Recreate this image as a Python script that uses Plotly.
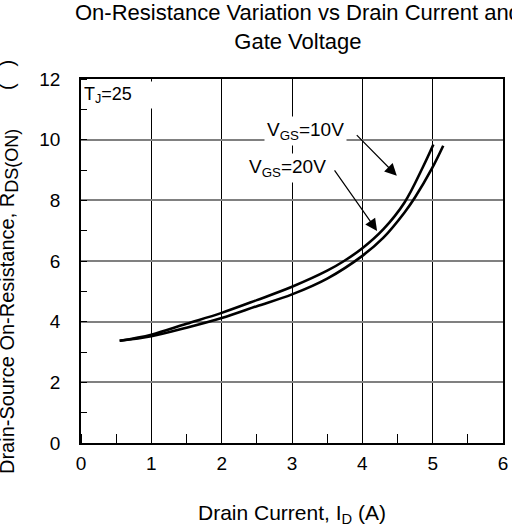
import plotly.graph_objects as go

# Data
id_10v = [0.55, 1.0, 1.5, 2.0, 2.5, 3.0, 3.5, 3.74, 4.0, 4.3, 4.6, 4.86, 5.01]
r_10v = [3.37, 3.57, 3.93, 4.29, 4.71, 5.15, 5.68, 6.0, 6.42, 7.05, 7.93, 9.09, 9.84]
id_20v = [0.55, 1.0, 1.5, 2.0, 2.5, 3.0, 3.5, 4.0, 4.3, 4.6, 4.75, 4.99, 5.15]
r_20v = [3.37, 3.52, 3.80, 4.12, 4.51, 4.90, 5.42, 6.17, 6.77, 7.60, 8.10, 9.05, 9.80]

x_ticks = [0, 1, 2, 3, 4, 5, 6]
y_ticks = [0, 2, 4, 6, 8, 10, 12]

FONT = "Liberation Sans, Arial, sans-serif"
NB = "\u00a0"

fig = go.Figure()
fig.add_trace(go.Scatter(x=id_10v, y=r_10v, mode="lines", name="VGS=10V",
                         line=dict(color="black", width=2.6, shape="spline", smoothing=1.0)))
fig.add_trace(go.Scatter(x=id_20v, y=r_20v, mode="lines", name="VGS=20V",
                         line=dict(color="black", width=2.6, shape="spline", smoothing=1.0)))

fig.update_layout(
    width=512, height=529,
    margin=dict(l=81, r=4, t=79, b=86),
    paper_bgcolor="white", plot_bgcolor="white",
    showlegend=False,
    font=dict(family=FONT, color="black"),
    title=dict(text="On-Resistance Variation vs Drain Current and<br>Gate Voltage",
               font=dict(size=22, family=FONT, color="black"),
               x=0.514, xref="paper", xanchor="center",
               y=0.962, yref="container", yanchor="top"),
)

fig.update_xaxes(
    range=[0, 6], tickvals=x_ticks, ticktext=[str(v) for v in x_ticks],
    showgrid=True, gridcolor="black", gridwidth=1,
    ticks="", tickfont=dict(size=19, family=FONT, color="black"),
    ticklabelstandoff=2,
    minor=dict(dtick=0.5, ticks="inside", ticklen=9, tickcolor="black", tickwidth=1, showgrid=False),
    showline=True, linecolor="black", linewidth=1.5, mirror=True,
    zeroline=False,
)
fig.update_yaxes(
    range=[0, 12], tickvals=y_ticks, ticktext=[str(v) for v in y_ticks],
    showgrid=True, gridcolor="#808080", gridwidth=1.6,
    ticks="", tickfont=dict(size=19, family=FONT, color="black"),
    ticklabelstandoff=15,
    minor=dict(dtick=1, ticks="inside", ticklen=6, tickcolor="black", tickwidth=1, showgrid=False),
    showline=True, linecolor="black", linewidth=1.5, mirror=True,
    zeroline=False,
)

y_title = ("Drain-Source On-Resistance, R<sub><span style='font-size:18px'>DS(ON)</span></sub>"
           + NB * 7 + "(" + NB * 3 + ")")

annotations = [
    # axis titles
    dict(text="Drain Current, I<sub>D</sub> (A)", xref="paper", yref="paper",
         x=0.5, y=0, xanchor="center", yanchor="middle", yshift=-71, xshift=0,
         showarrow=False, font=dict(size=21, family=FONT, color="black")),
    dict(text=y_title, xref="paper", yref="paper",
         x=0, y=0.5, xanchor="center", yanchor="middle", xshift=-72, yshift=-6,
         textangle=-90, showarrow=False, font=dict(size=20, family=FONT, color="black")),
    # T_J label
    dict(text="T<sub>J</sub>=25", xref="paper", yref="paper", x=0, y=1,
         xanchor="left", yanchor="top", xshift=1, yshift=-2,
         width=70, height=24, align="left", valign="middle",
         bgcolor="white", showarrow=False, font=dict(size=18, family=FONT, color="black")),
    # labels
    dict(text="V<sub>GS</sub>=10V", xref="x", yref="y", x=3.19, y=10.3,
         xanchor="center", yanchor="middle", bgcolor="white", borderpad=2,
         showarrow=False, font=dict(size=19, family=FONT, color="black")),
    dict(text="V<sub>GS</sub>=20V", xref="x", yref="y", x=2.93, y=9.07,
         xanchor="center", yanchor="middle", bgcolor="white", borderpad=2,
         showarrow=False, font=dict(size=19, family=FONT, color="black")),
    # arrows
    dict(text="", xref="x", yref="y", axref="x", ayref="y",
         x=4.49, y=8.81, ax=3.90, ay=10.20,
         showarrow=True, arrowhead=2, arrowsize=2, arrowwidth=1.2, arrowcolor="black"),
    dict(text="", xref="x", yref="y", axref="x", ayref="y",
         x=4.21, y=6.99, ax=3.59, ay=9.04,
         showarrow=True, arrowhead=2, arrowsize=2, arrowwidth=1.2, arrowcolor="black"),
]
fig.update_layout(annotations=annotations)

fig.write_html("out.html")
